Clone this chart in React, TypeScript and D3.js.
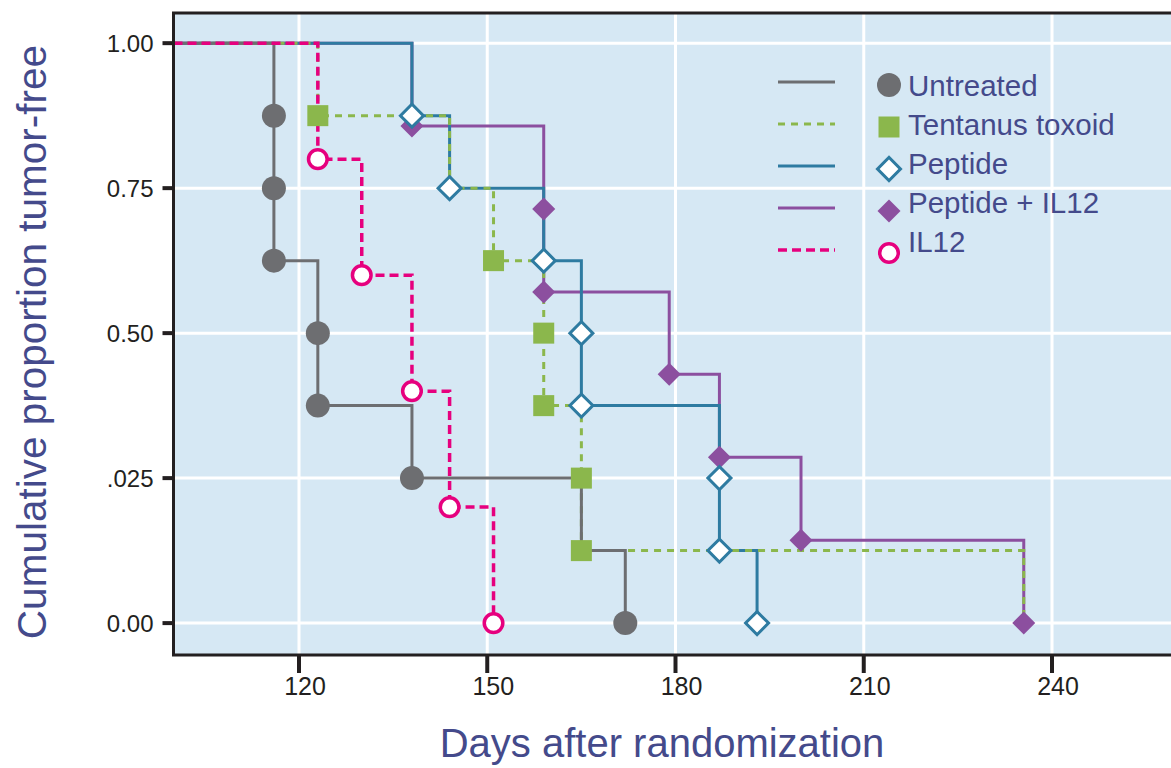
import { useRef, useEffect } from "react";
import * as d3 from "d3";

const X_TICKS = [120, 150, 180, 210, 240];
const Y_TICKS = [1, 0.75, 0.5, 0.25, 0];
const Y_TICK_LABELS = ["1.00", "0.75", "0.50", ".025", "0.00"];

// event days and survival after each event (Kaplan-Meier steps)
const untreatedDays = [116, 116, 116, 123, 123, 138, 165, 172];
const untreatedSurv = [0.875, 0.75, 0.625, 0.5, 0.375, 0.25, 0.125, 0];
const tetanusDays = [123, 144, 151, 159, 159, 165, 165, 235.5];
const tetanusSurv = [0.875, 0.75, 0.625, 0.5, 0.375, 0.25, 0.125, 0];
const peptideDays = [138, 144, 159, 165, 165, 187, 187, 193];
const peptideSurv = [0.875, 0.75, 0.625, 0.5, 0.375, 0.25, 0.125, 0];
const peptideIl12Days = [138, 159, 159, 179, 187, 200, 235.5];
const peptideIl12Surv = [0.857, 0.714, 0.571, 0.429, 0.286, 0.143, 0];
const il12Days = [123, 130, 138, 144, 151];
const il12Surv = [0.8, 0.6, 0.4, 0.2, 0];

// events that show no marker in the figure (index into the arrays above)
const untreatedUnmarked = [6];
const tetanusUnmarked = [1, 7];

const LEGEND_LABELS = ["Untreated", "Tentanus toxoid", "Peptide", "Peptide + IL12", "IL12"];

type Marker = "circle" | "square" | "diamond" | "openDiamond" | "openCircle";
interface Series {
  name: string;
  days: number[];
  surv: number[];
  unmarked: number[];
  color: string;
  dash: string | null;
  width: number;
  marker: Marker;
}

const GRAY = "#6d6e71";
const GREEN = "#8bb74c";
const BLUE = "#2e7ba1";
const PURPLE = "#8c4f9f";
const MAGENTA = "#e6007e";
const TITLE = "#444a8b";
const INK = "#231f20";
const FONT = "'Liberation Sans', Arial, sans-serif";

const series: Record<string, Series> = {
  untreated: { name: LEGEND_LABELS[0], days: untreatedDays, surv: untreatedSurv, unmarked: untreatedUnmarked, color: GRAY, dash: null, width: 3, marker: "circle" },
  tetanus: { name: LEGEND_LABELS[1], days: tetanusDays, surv: tetanusSurv, unmarked: tetanusUnmarked, color: GREEN, dash: "7,6", width: 3, marker: "square" },
  peptide: { name: LEGEND_LABELS[2], days: peptideDays, surv: peptideSurv, unmarked: [], color: BLUE, dash: null, width: 3, marker: "openDiamond" },
  peptideIl12: { name: LEGEND_LABELS[3], days: peptideIl12Days, surv: peptideIl12Surv, unmarked: [], color: PURPLE, dash: null, width: 3, marker: "diamond" },
  il12: { name: LEGEND_LABELS[4], days: il12Days, surv: il12Surv, unmarked: [], color: MAGENTA, dash: "9,5", width: 3.5, marker: "openCircle" },
};

const LEGEND_ORDER = ["untreated", "tetanus", "peptide", "peptideIl12", "il12"];
const LINE_ORDER = ["peptideIl12", "peptide", "tetanus", "untreated", "il12"];
const MARKER_ORDER = ["untreated", "tetanus", "peptideIl12", "peptide", "il12"];

function drawMarker(
  g: d3.Selection<SVGGElement, unknown, null, undefined>,
  kind: Marker,
  color: string,
  cx: number,
  cy: number,
) {
  if (kind === "circle") {
    g.append("circle").attr("cx", cx).attr("cy", cy).attr("r", 12).attr("fill", color);
  } else if (kind === "openCircle") {
    g.append("circle")
      .attr("cx", cx)
      .attr("cy", cy)
      .attr("r", 9.3)
      .attr("fill", "white")
      .attr("stroke", color)
      .attr("stroke-width", 3.5);
  } else if (kind === "square") {
    g.append("rect")
      .attr("x", cx - 10.5)
      .attr("y", cy - 10.5)
      .attr("width", 21)
      .attr("height", 21)
      .attr("fill", color);
  } else if (kind === "diamond") {
    g.append("path")
      .attr("d", d3.symbol(d3.symbolSquare, 265)())
      .attr("transform", `translate(${cx},${cy}) rotate(45)`)
      .attr("fill", color);
  } else {
    g.append("path")
      .attr("d", d3.symbol(d3.symbolSquare, 265)())
      .attr("transform", `translate(${cx},${cy}) rotate(45)`)
      .attr("fill", "white")
      .attr("stroke", color)
      .attr("stroke-width", 3);
  }
}

function SurvivalChart() {
  const svgRef = useRef<SVGSVGElement>(null);

  useEffect(() => {
    if (!svgRef.current) return;
    const W = 1171;
    const H = 768;

    const svg = d3.select(svgRef.current);
    svg.selectAll("*").remove();
    svg.attr("width", W).attr("height", H);

    const x = d3.scaleLinear().domain([100, 260]).range([173.5, 1177.5]);
    const y = d3.scaleLinear().domain([-0.055, 1.052]).range([655, 13]);

    const [x0, x1] = x.range();
    const [yb, yt] = y.range();

    // plot background
    svg.append("rect")
      .attr("x", x0)
      .attr("y", yt)
      .attr("width", x1 - x0)
      .attr("height", yb - yt)
      .attr("fill", "#d6e8f4");

    // grid
    const grid = svg.append("g").attr("stroke", "white").attr("stroke-width", 3);
    grid.selectAll(".gx")
      .data(X_TICKS)
      .enter()
      .append("line")
      .attr("x1", (d) => x(d))
      .attr("x2", (d) => x(d))
      .attr("y1", yt)
      .attr("y2", yb);
    grid.selectAll(".gy")
      .data(Y_TICKS)
      .enter()
      .append("line")
      .attr("x1", x0)
      .attr("x2", x1)
      .attr("y1", (d) => y(d))
      .attr("y2", (d) => y(d));

    // step lines
    const line = d3
      .line<[number, number]>()
      .x((d) => x(d[0]))
      .y((d) => y(d[1]))
      .curve(d3.curveStepAfter);

    const lines = svg.append("g").attr("fill", "none");
    LINE_ORDER.forEach((key) => {
      const s = series[key];
      const pts: [number, number][] = [[100, 1]];
      s.days.forEach((d, i) => pts.push([d, s.surv[i]]));
      const p = lines
        .append("path")
        .attr("d", line(pts))
        .attr("stroke", s.color)
        .attr("stroke-width", s.width);
      if (s.dash) p.attr("stroke-dasharray", s.dash);
    });

    // markers
    const marks = svg.append("g");
    MARKER_ORDER.forEach((key) => {
      const s = series[key];
      s.days.forEach((d, i) => {
        if (s.unmarked.includes(i)) return;
        drawMarker(marks, s.marker, s.color, x(d), y(s.surv[i]));
      });
    });

    // frame
    svg.append("rect")
      .attr("x", x0)
      .attr("y", yt)
      .attr("width", x1 - x0 + 20)
      .attr("height", yb - yt)
      .attr("fill", "none")
      .attr("stroke", INK)
      .attr("stroke-width", 3);

    // y axis ticks + labels
    const ya = svg.append("g");
    Y_TICKS.forEach((v, i) => {
      ya.append("line")
        .attr("x1", x0 - 11)
        .attr("x2", x0)
        .attr("y1", y(v))
        .attr("y2", y(v))
        .attr("stroke", INK)
        .attr("stroke-width", 4);
      ya.append("text")
        .attr("x", x0 - 20)
        .attr("y", y(v))
        .attr("dy", "0.36em")
        .attr("text-anchor", "end")
        .style("font-family", FONT)
        .style("font-size", "24px")
        .style("fill", INK)
        .text(Y_TICK_LABELS[i]);
    });

    // x axis ticks + labels
    const xa = svg.append("g");
    X_TICKS.forEach((v) => {
      xa.append("line")
        .attr("x1", x(v))
        .attr("x2", x(v))
        .attr("y1", yb)
        .attr("y2", yb + 18)
        .attr("stroke", INK)
        .attr("stroke-width", 4);
      xa.append("text")
        .attr("x", x(v) + 6)
        .attr("y", yb + 40)
        .attr("text-anchor", "middle")
        .style("font-family", FONT)
        .style("font-size", "25px")
        .style("fill", INK)
        .text(v);
    });

    // axis titles
    svg.append("text")
      .attr("transform", `translate(46,342) rotate(-90)`)
      .attr("text-anchor", "middle")
      .style("font-family", FONT)
      .style("font-size", "40.5px")
      .style("fill", TITLE)
      .text("Cumulative proportion tumor-free");

    svg.append("text")
      .attr("x", 662)
      .attr("y", 757)
      .attr("text-anchor", "middle")
      .style("font-family", FONT)
      .style("font-size", "40px")
      .style("fill", TITLE)
      .text("Days after randomization");

    // legend
    const legend = svg.append("g");
    LEGEND_ORDER.forEach((key, i) => {
      const s = series[key];
      const ly = 82 + i * 42;
      const l = legend
        .append("line")
        .attr("x1", 778)
        .attr("x2", 835)
        .attr("y1", ly)
        .attr("y2", ly)
        .attr("stroke", s.color)
        .attr("stroke-width", s.width);
      if (s.dash) l.attr("stroke-dasharray", s.dash);
      drawMarker(legend, s.marker, s.color, 889, ly + 3);
      legend
        .append("text")
        .attr("x", 908)
        .attr("y", 96 + i * 39)
        .style("font-family", FONT)
        .style("font-size", "29.5px")
        .style("fill", TITLE)
        .text(s.name);
    });
  }, []);

  return <svg ref={svgRef} style={{ display: "block", position: "absolute", left: 0, top: 0 }} />;
}

export default function App() {
  return (
    <div style={{ width: 1171, height: 768, background: "white" }}>
      <SurvivalChart />
    </div>
  );
}
